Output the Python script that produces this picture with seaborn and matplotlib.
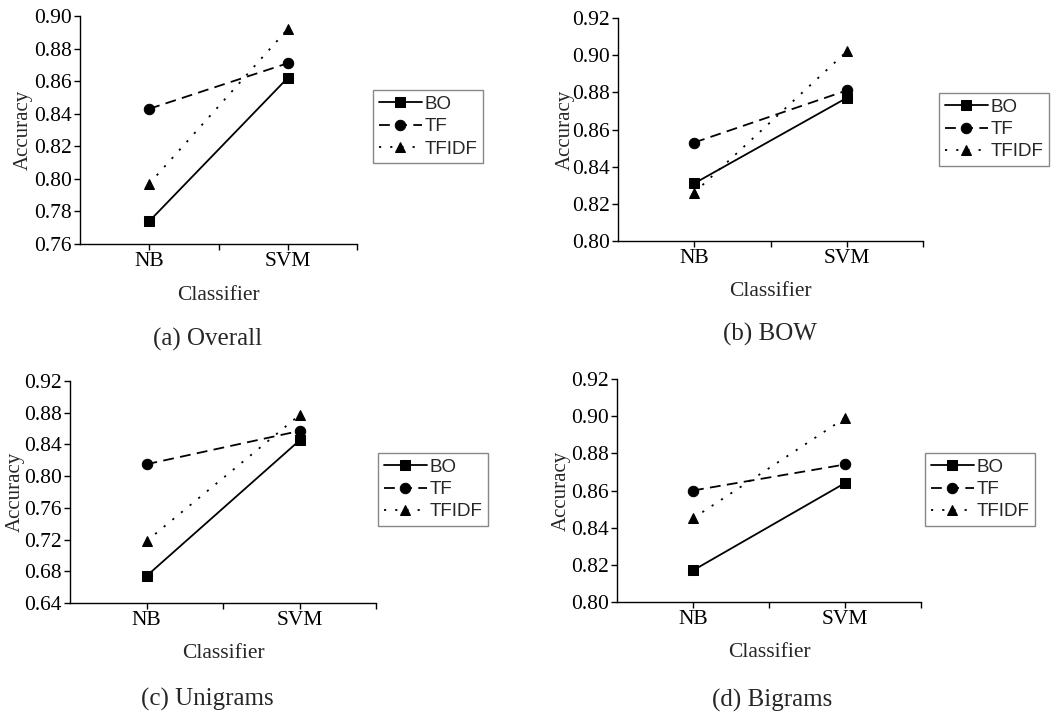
import pandas as pd
import numpy as np
import matplotlib
matplotlib.use("Agg")
import matplotlib.pyplot as plt
import seaborn as sns

# values
classifiers = ["NB", "SVM"]
weights = ["BO", "TF", "TFIDF"]

overall_bo = [0.774, 0.862]
overall_tf = [0.843, 0.871]
overall_tfidf = [0.797, 0.892]

bow_bo = [0.831, 0.877]
bow_tf = [0.853, 0.881]
bow_tfidf = [0.826, 0.902]

uni_bo = [0.674, 0.845]
uni_tf = [0.815, 0.857]
uni_tfidf = [0.718, 0.877]

bi_bo = [0.817, 0.864]
bi_tf = [0.860, 0.874]
bi_tfidf = [0.845, 0.899]

captions = ["(a) Overall", "(b) BOW", "(c) Unigrams", "(d) Bigrams"]
ylims = [(0.76, 0.90, 0.02), (0.80, 0.92, 0.02), (0.64, 0.92, 0.04), (0.80, 0.92, 0.02)]

sns.set_style("ticks")
plt.rcParams['font.family'] = ['Liberation Serif', 'DejaVu Serif']
plt.rcParams['axes.linewidth'] = 1.0
plt.rcParams['xtick.major.size'] = 4
plt.rcParams['ytick.major.size'] = 4
plt.rcParams['xtick.minor.size'] = 4
plt.rcParams['xtick.color'] = 'black'
plt.rcParams['ytick.color'] = 'black'
plt.rcParams['axes.edgecolor'] = 'black'


def make_df(bo, tf, tfidf):
    rows = []
    for name, vals in zip(weights, [bo, tf, tfidf]):
        for c, v in zip(classifiers, vals):
            rows.append({"Classifier": c, "Accuracy": v, "Weight": name})
    return pd.DataFrame(rows)


panels = [
    make_df(overall_bo, overall_tf, overall_tfidf),
    make_df(bow_bo, bow_tf, bow_tfidf),
    make_df(uni_bo, uni_tf, uni_tfidf),
    make_df(bi_bo, bi_tf, bi_tfidf),
]

# layout in pixels (left, top, right, bottom) for a 1064x718 canvas
W, H = 1064, 718
boxes = [(80, 16, 357, 244), (618, 18, 923, 241), (70, 381, 376, 603), (617, 379, 921, 602)]
legend_pos = [(373, 90), (939, 93), (378, 453), (925, 453)]
ylabel_x = [-0.17, -0.141, -0.147, -0.151]
caption_pos = [(208, 339), (770, 334), (207, 699), (772, 700)]

fig = plt.figure(figsize=(W / 100, H / 100), dpi=100)

for i, df in enumerate(panels):
    l, t, r, b = boxes[i]
    ax = fig.add_axes([l / W, 1 - b / H, (r - l) / W, (b - t) / H])
    sns.lineplot(data=df, x="Classifier", y="Accuracy", hue="Weight", style="Weight",
                 hue_order=weights, style_order=weights,
                 palette=["black"] * 3,
                 markers={"BO": "s", "TF": "o", "TFIDF": "^"},
                 dashes={"BO": "", "TF": (6, 3.5), "TFIDF": (1.2, 5)},
                 errorbar=None, linewidth=1.3, markersize=7.5,
                 markeredgecolor="black", legend=False, ax=ax)
    sns.despine(ax=ax)

    lo, hi, step = ylims[i]
    ticks = np.round(np.arange(lo, hi + step / 2, step), 2)
    ax.set_ylim(lo, hi)
    ax.set_yticks(ticks)
    ax.set_yticklabels([f"{v:.2f}" for v in ticks])
    ax.set_xlim(-0.5, 1.5)
    ax.set_xticks([0, 1])
    ax.set_xticklabels(classifiers)
    ax.set_xticks([0.5, 1.5], minor=True)
    ax.tick_params(axis="both", labelsize=15.5, direction="out", width=1.0, pad=2)
    ax.tick_params(axis="x", which="minor", direction="out", width=1.0)

    ax.set_xlabel("Classifier", fontsize=15.5)
    ax.set_ylabel("Accuracy", fontsize=15)
    ax.xaxis.set_label_coords(0.5, -0.185)
    ax.yaxis.set_label_coords(ylabel_x[i], 0.5)

    lx, ly = legend_pos[i]
    handles = ax.get_lines()[:3]
    leg = ax.legend(handles, weights, loc="upper left",
                    bbox_to_anchor=(lx / W, 1 - ly / H), bbox_transform=fig.transFigure,
                    borderaxespad=0, frameon=True, fancybox=False, framealpha=1,
                    edgecolor="#888888", handlelength=2.3, handletextpad=0.15,
                    labelspacing=0.28, borderpad=0.3,
                    prop={"family": "Liberation Sans", "size": 13.5})
    leg.get_frame().set_linewidth(1.0)

    cx, cy = caption_pos[i]
    fig.text(cx / W, 1 - cy / H, captions[i], ha="center", va="center", fontsize=18)

fig.savefig("out.png", dpi=100)
